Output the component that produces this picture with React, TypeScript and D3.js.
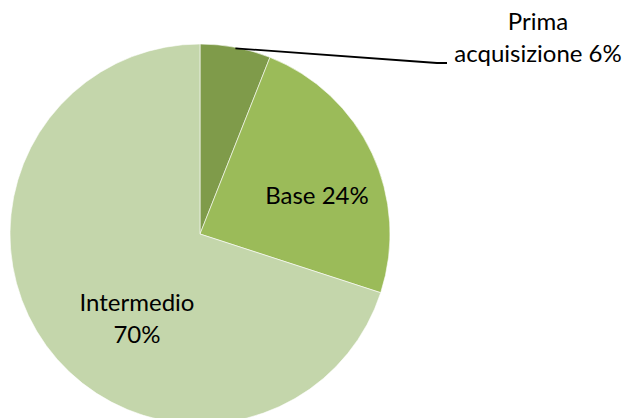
import React from "react";
import * as d3 from "d3";

const categories = ["Prima acquisizione", "Base", "Intermedio"];
const values = [6, 24, 70];
const colors = ["#7F9B4A", "#9BBB59", "#C4D6AB"];

export default function App() {
  const width = 627;
  const height = 418;
  const cx = 200;
  const cy = 234;
  const r = 190;
  const pie = d3.pie<number>().sort(null).value((d) => d).startAngle(0).endAngle(2 * Math.PI);
  const arcs = pie(values);
  const arcGen = d3.arc<d3.PieArcDatum<number>>().innerRadius(0).outerRadius(r);
  const total = d3.sum(values);
  const pct = (v: number) => `${Math.round((v / total) * 100)}%`;
  const font = "Lato, 'Open Sans', sans-serif";
  const fs = 24;

  // leader line for the smallest slice
  const a0 = arcs[0];
  const mid = (a0.startAngle + a0.endAngle) / 2;
  const lx0 = cx + Math.sin(mid) * (r - 1);
  const ly0 = cy - Math.cos(mid) * (r - 1);

  return (
    <svg
      width={width}
      height={height}
      style={{ position: "absolute", left: 0, top: 0, background: "#fff" }}
    >
      <g transform={`translate(${cx},${cy})`}>
        {arcs.map((a, i) => (
          <path key={i} d={arcGen(a) || ""} fill={colors[i]} stroke="#ffffff" strokeWidth={0.6} />
        ))}
      </g>
      <polyline
        points={`${lx0},${ly0} 437,63 447,63`}
        fill="none"
        stroke="#000"
        strokeWidth={1.8}
      />
      <text x={538} y={30} textAnchor="middle" fontFamily={font} fontSize={fs} fill="#000">
        Prima
      </text>
      <text x={538} y={62} textAnchor="middle" fontFamily={font} fontSize={fs} fill="#000">
        {`acquisizione ${pct(values[0])}`}
      </text>
      <text x={317} y={204} textAnchor="middle" fontFamily={font} fontSize={fs} fill="#000">
        {`${categories[1]} ${pct(values[1])}`}
      </text>
      <text x={137} y={311} textAnchor="middle" fontFamily={font} fontSize={fs} fill="#000">
        {categories[2]}
      </text>
      <text x={137} y={343} textAnchor="middle" fontFamily={font} fontSize={fs} fill="#000">
        {pct(values[2])}
      </text>
    </svg>
  );
}
